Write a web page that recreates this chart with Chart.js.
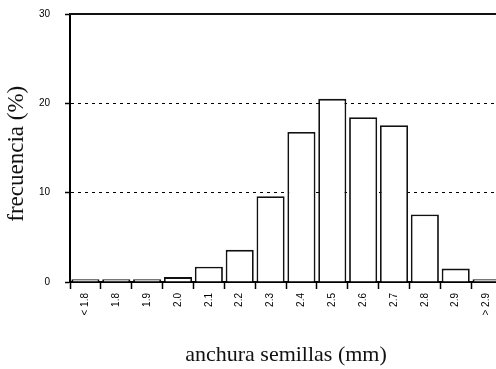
<!DOCTYPE html>
<html>
<head>
<meta charset="utf-8">
<script src="https://cdn.jsdelivr.net/npm/chart.js@4"></script>
<style>
  html, body { margin: 0; padding: 0; background: #fff; overflow: hidden; }
  #wrap { width: 510px; height: 369px; }
</style>
</head>
<body>
<div id="wrap"><canvas id="chart"></canvas></div>
<script>
const categories = ['< 1.8', '1.8', '1.9', '2.0', '2.1', '2.2', '2.3', '2.4', '2.5', '2.6', '2.7', '2.8', '2.9', '> 2.9']
const frequency = [0.3, 0.3, 0.3, 0.55, 1.7, 3.6, 9.6, 16.8, 20.5, 18.45, 17.55, 7.55, 1.5, 0.3]
const yTicks = [0, 10, 20, 30]

const topLine = {
    id: 'topLine',
    afterDraw(chart) {
        const { ctx, chartArea } = chart
        ctx.save()
        ctx.strokeStyle = '#111'
        ctx.lineWidth = 2
        ctx.beginPath()
        ctx.moveTo(chartArea.left - 1, chartArea.top)
        ctx.lineTo(chartArea.right, chartArea.top)
        ctx.stroke()
        ctx.restore()
    }
}

const config = {
    type: 'bar',
    data: {
        labels: categories,
        datasets: [{
            data: frequency,
            backgroundColor: '#fff',
            borderColor: '#111',
            borderWidth: 1.8,
            barPercentage: 0.91,
            categoryPercentage: 1
        }]
    },
    options: {
        responsive: true,
        maintainAspectRatio: false,
        animation: false,
        layout: { padding: { top: 14, right: 8, left: 0, bottom: 0 } },
        plugins: {
            legend: { display: false },
            tooltip: { enabled: false }
        },
        scales: {
            x: {
                grid: {
                    drawOnChartArea: false,
                    tickLength: 7,
                    tickColor: '#000',
                    tickWidth: 1.5
                },
                border: { color: '#000', width: 2 },
                ticks: {
                    color: '#000',
                    minRotation: 90,
                    maxRotation: 90,
                    padding: 4,
                    font: { family: 'Liberation Sans', size: 10 }
                },
                title: {
                    display: true,
                    text: 'anchura semillas (mm)',
                    color: '#111',
                    font: { family: 'Liberation Serif', size: 22 },
                    padding: { top: 0, bottom: 1 }
                },
                afterFit: (scale) => { scale.height = 87 }
            },
            y: {
                min: 0,
                max: 30,
                afterBuildTicks: (scale) => { scale.ticks = yTicks.map(v => ({ value: v })) },
                grid: {
                    color: (ctx) => (ctx.tick && (ctx.tick.value === 10 || ctx.tick.value === 20)) ? '#000' : 'rgba(0,0,0,0)',
                    lineWidth: 1,
                    tickLength: 5,
                    tickColor: '#000',
                    tickWidth: 1.5,
                    tickBorderDash: []
                },
                border: { color: '#000', width: 2, dash: [3, 4] },
                ticks: {
                    color: '#000',
                    padding: 15,
                    font: { family: 'Liberation Sans', size: 10 }
                },
                title: {
                    display: true,
                    // two trailing spaces nudge the centred label down a little
                    text: 'frecuencia (%)\u00a0\u00a0',
                    color: '#111',
                    font: { family: 'Liberation Serif', size: 23 },
                    padding: { top: 3, bottom: 0 }
                },
                afterFit: (scale) => {
                    scale.width = 70
                    scale.paddingTop = 0
                    scale.paddingBottom = 0
                }
            }
        }
    },
    plugins: [topLine]
}

new Chart(document.getElementById('chart'), config)
</script>
</body>
</html>
